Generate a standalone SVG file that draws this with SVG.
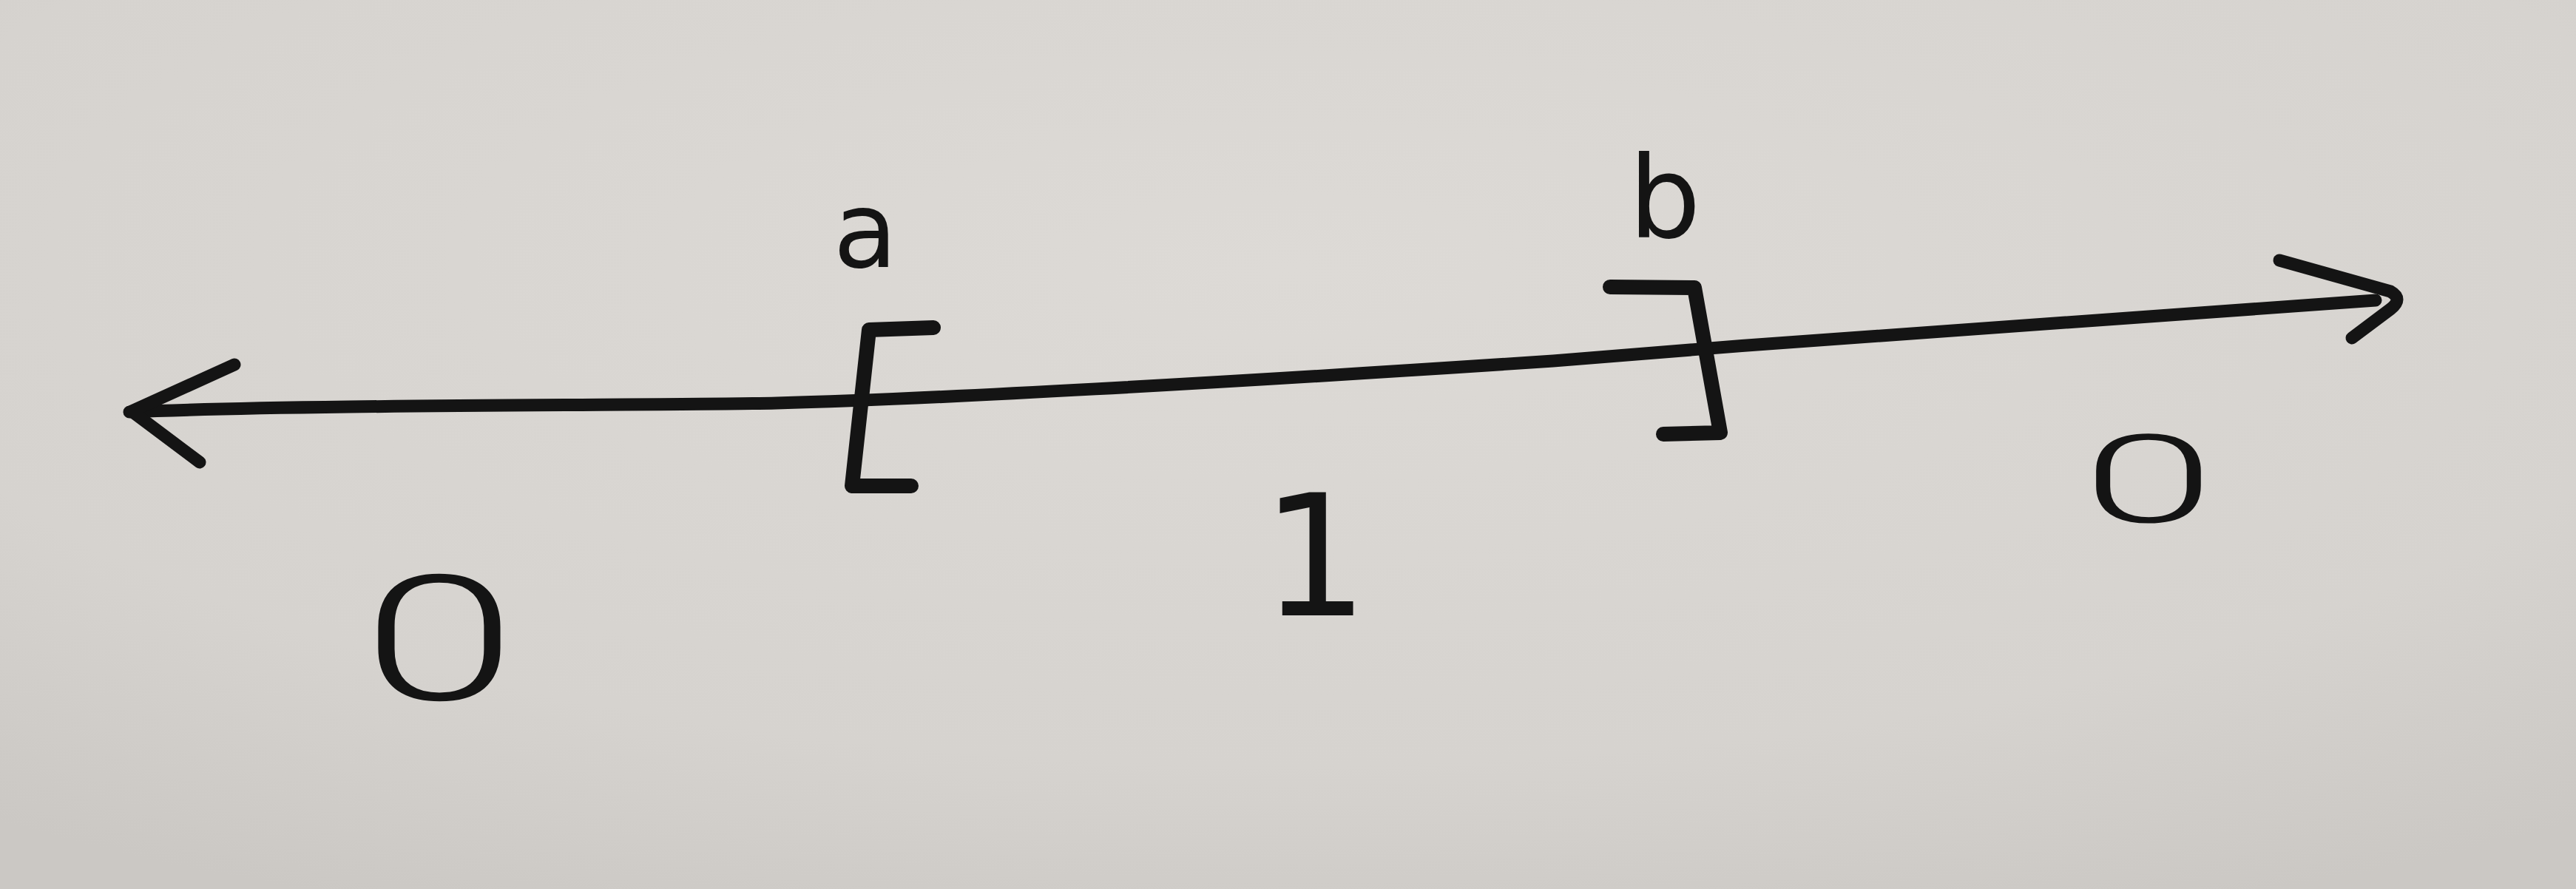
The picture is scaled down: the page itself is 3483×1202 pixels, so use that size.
<svg xmlns="http://www.w3.org/2000/svg" width="3483" height="1202" viewBox="0 0 3483 1202">
  <defs>
    <radialGradient id="paper" cx="0.5" cy="0.3" r="0.8">
      <stop offset="0" stop-color="#dddad6"/>
      <stop offset="0.7" stop-color="#d6d3cf"/>
      <stop offset="1" stop-color="#cbc8c4"/>
    </radialGradient>
  </defs>
  <style>
    .ink { fill: none; stroke: #141414; stroke-linecap: round; stroke-linejoin: round; }
    .line { stroke-width: 17; }
    .brk { stroke-width: 20; }
    .lbl { font-family: "DejaVu Sans", sans-serif; fill: #141414; text-anchor: middle; }
    .zero { font-family: Roboto, "DejaVu Sans", sans-serif; font-weight: 300; fill: #141414; text-anchor: middle; }
  </style>
  <rect width="3483" height="1202" fill="url(#paper)"/>

  <g id="connectors">
    <path class="ink line" d="M175,557 C400,547 900,548 1050,545 C1250,540 1650,518 2100,488 C2500,455 2950,422 3212,406"/>
    <!-- left arrowhead -->
    <path class="ink line" d="M317,493 L178,556 L270,625"/>
    <!-- right arrowhead -->
    <path class="ink line" d="M3082,352 L3232,394 Q3250,404 3232,418 L3180,457"/>
  </g>

  <g id="bracket-a">
    <path class="ink brk" d="M1262,443 L1175,446 L1152,657 L1232,657"/>
  </g>
  <g id="bracket-b">
    <path class="ink brk" d="M2177,388 L2291,389 L2326,585 L2249,587"/>
  </g>

  <g id="label-a">
    <text class="lbl" x="1170" y="361" font-size="142">a</text>
  </g>
  <g id="label-b">
    <text class="lbl" x="2251" y="321" font-size="154">b</text>
  </g>
  <g id="zero-left">
    <text class="zero" font-size="236" transform="translate(594,946) scale(1.6,1)">0</text>
  </g>
  <g id="one-middle">
    <text class="lbl" x="1778" y="832" font-size="228">1</text>
  </g>
  <g id="zero-right">
    <text class="zero" font-size="166" transform="translate(2905,706) scale(1.95,1)">0</text>
  </g>
</svg>
